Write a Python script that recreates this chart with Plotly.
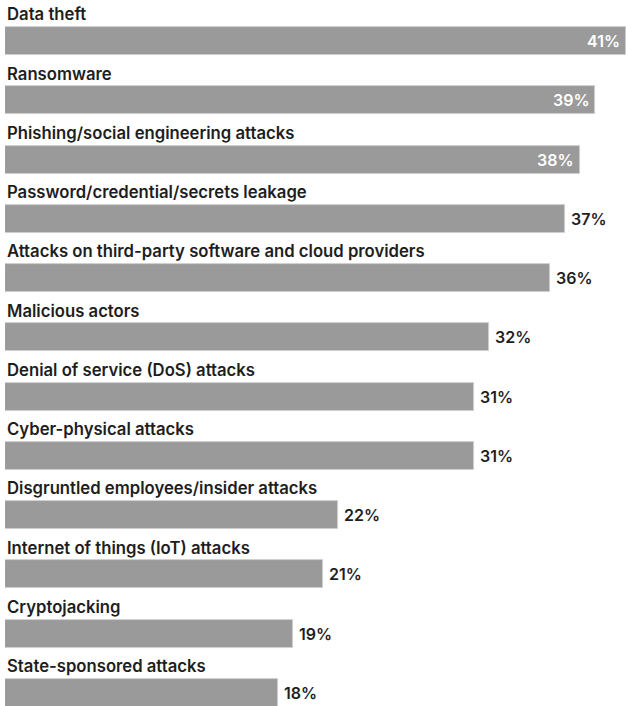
import plotly.graph_objects as go

categories = [
    "Data theft",
    "Ransomware",
    "Phishing/social engineering attacks",
    "Password/credential/secrets leakage",
    "Attacks on third-party software and cloud providers",
    "Malicious actors",
    "Denial of service (DoS) attacks",
    "Cyber-physical attacks",
    "Disgruntled employees/insider attacks",
    "Internet of things (IoT) attacks",
    "Cryptojacking",
    "State-sponsored attacks",
]
values = [41, 39, 38, 37, 36, 32, 31, 31, 22, 21, 19, 18]
value_labels = [f"{v}%" for v in values]

BAR_COLOR = "#9a9a9a"
TEXT_COLOR = "#1e1e1e"
FONT = "Inter"

pos = list(range(len(categories)))

fig = go.Figure()
fig.add_trace(go.Bar(
    x=values,
    y=pos,
    orientation="h",
    width=0.472,
    marker=dict(color=BAR_COLOR, line=dict(color="#d0d0d0", width=0.8)),
    hoverinfo="skip",
))

annotations = []
for i, (cat, v, lab) in enumerate(zip(categories, values, value_labels)):
    annotations.append(dict(
        x=0, y=i - 0.45, xref="x", yref="y", text=cat, showarrow=False,
        xanchor="left", yanchor="middle", xshift=0,
        font=dict(family=FONT, size=16.7, color=TEXT_COLOR, weight=600),
    ))
    inside = i < 3
    annotations.append(dict(
        x=v, y=i, xref="x", yref="y", text=lab, showarrow=False,
        xanchor="right" if inside else "left", yanchor="middle",
        xshift=-4 if inside else 4,
        font=dict(family=FONT, size=16, color="white" if inside else TEXT_COLOR, weight=600),
    ))

fig.update_layout(
    width=626, height=706,
    margin=dict(l=5, r=0, t=0, b=0),
    plot_bgcolor="white", paper_bgcolor="white",
    showlegend=False,
    bargap=0,
    xaxis=dict(range=[0, 41.02], visible=False, fixedrange=True),
    yaxis=dict(range=[11.22, -0.692], visible=False, fixedrange=True),
    annotations=annotations,
)

fig.write_html("out.html")
